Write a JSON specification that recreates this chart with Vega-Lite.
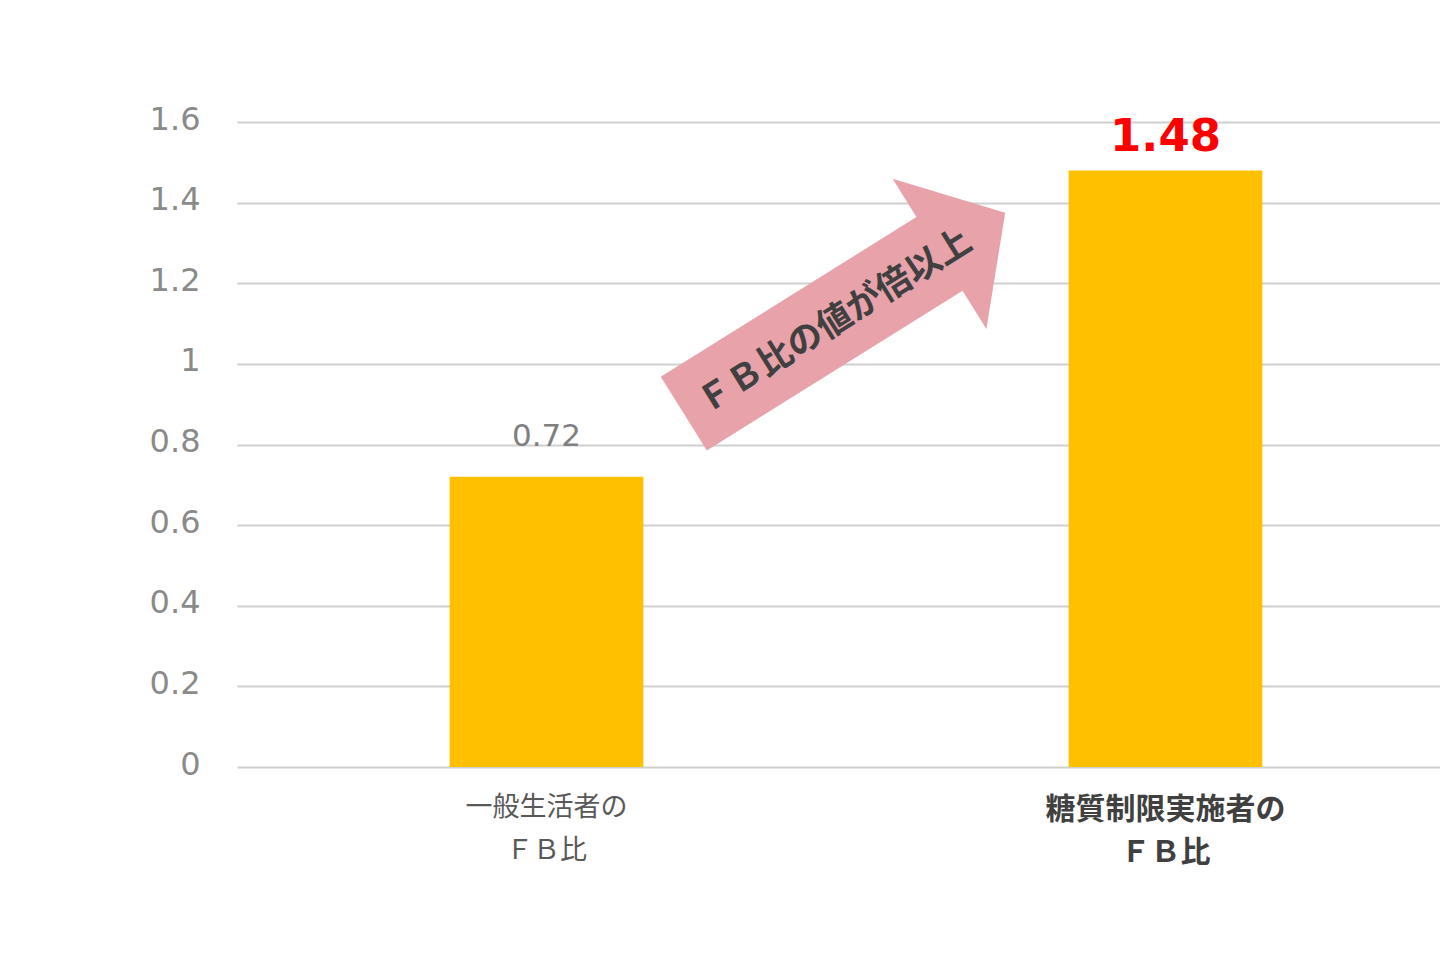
{
  "$schema": "https://vega.github.io/schema/vega-lite/v6.json",
  "width": 1203,
  "height": 645,
  "autosize": {"type": "none"},
  "padding": {"left": 237, "top": 122, "right": 0, "bottom": 192},
  "background": "white",
  "config": {
    "view": {"stroke": null},
    "font": "DejaVu Sans"
  },
  "datasets": {
    "bars": [
      {"group": "一般生活者の\nＦＢ比", "value": 0.72},
      {"group": "糖質制限実施者の\nＦＢ比", "value": 1.48}
    ],
    "arrow": [
      {"ax": 0.505, "ay": 1.1256, "tx": 0.497, "ty": 1.105, "label": "ＦＢ比の値が倍以上"}
    ]
  },
  "layer": [
    {
      "data": {"name": "bars"},
      "encoding": {
        "x": {
          "field": "group",
          "type": "nominal",
          "sort": null,
          "scale": {"range": [0, 1238], "paddingInner": 0, "paddingOuter": 0},
          "axis": {
            "title": null,
            "domain": false,
            "ticks": false,
            "labelAngle": 0,
            "labelLimit": 0,
            "labelExpr": "split(datum.label, '\\n')",
            "labelFont": "Noto Sans CJK JP",
            "labelFontSize": {"condition": {"test": "indexof(datum.label, '糖質') >= 0", "value": 30}, "value": 27},
            "labelFontWeight": {"condition": {"test": "indexof(datum.label, '糖質') >= 0", "value": "bold"}, "value": "normal"},
            "labelColor": {"condition": {"test": "indexof(datum.label, '糖質') >= 0", "value": "#404040"}, "value": "#595959"},
            "labelLineHeight": 43,
            "labelBaseline": "top",
            "labelPadding": 27
          }
        },
        "y": {
          "field": "value",
          "type": "quantitative",
          "scale": {"domain": [0, 1.6], "nice": false},
          "axis": {
            "title": null,
            "domain": false,
            "ticks": false,
            "values": [0, 0.2, 0.4, 0.6, 0.8, 1, 1.2, 1.4, 1.6],
            "format": "~g",
            "labelFontSize": 32,
            "labelColor": "#8a8a8a",
            "labelPadding": 37,
            "labelOffset": -3,
            "gridColor": "#d0d0d0",
            "gridWidth": 2,
            "grid": true
          }
        }
      },
      "layer": [
        {
          "mark": {"type": "bar", "color": "#FFC000", "width": {"band": 0.313}}
        },
        {
          "transform": [{"filter": "datum.value < 1"}],
          "mark": {"type": "text", "fontSize": 31, "color": "#7f7f7f", "baseline": "alphabetic", "dy": -31},
          "encoding": {
            "text": {"field": "value", "type": "quantitative", "format": ".2f"}
          }
        },
        {
          "transform": [{"filter": "datum.value > 1"}],
          "mark": {"type": "text", "fontSize": 45, "fontWeight": "bold", "color": "#FF0000", "baseline": "alphabetic", "dy": -19},
          "encoding": {
            "text": {"field": "value", "type": "quantitative", "format": ".2f"}
          }
        }
      ]
    },
    {
      "data": {"name": "arrow"},
      "encoding": {
        "y": {"field": "ay", "type": "quantitative", "title": null}
      },
      "layer": [
        {
          "mark": {
            "type": "point",
            "filled": true,
            "opacity": 1,
            "color": "#E8A2AA",
            "strokeWidth": 0,
            "angle": -32,
            "size": 143641,
            "shape": "M -1 -0.2296 L 0.591 -0.2296 L 0.591 -0.467 L 1 0 L 0.591 0.467 L 0.591 0.2296 L -1 0.2296 Z"
          },
          "encoding": {
            "x": {"field": "ax", "type": "quantitative", "scale": {"domain": [0, 1]}, "axis": null}
          }
        },
        {
          "mark": {
            "type": "text",
            "font": "Noto Sans CJK JP",
            "fontWeight": "bold",
            "fontSize": 35,
            "color": "#404040",
            "angle": -32,
            "align": "center",
            "baseline": "middle"
          },
          "encoding": {
            "x": {"field": "tx", "type": "quantitative", "scale": {"domain": [0, 1]}, "axis": null},
            "y": {"field": "ty", "type": "quantitative", "title": null},
            "text": {"field": "label"}
          }
        }
      ]
    }
  ],
  "resolve": {"scale": {"x": "independent"}}
}
